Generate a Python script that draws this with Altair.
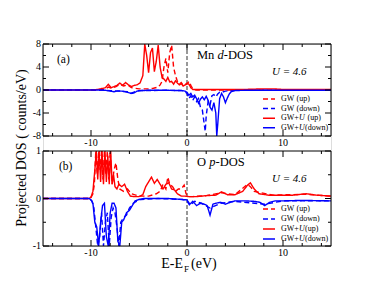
import altair as alt
import pandas as pd

# ---------------- data ----------------
series_names = ["GW (up)", "GW (down)", "GW+U (up)", "GW+U (down)"]

# Panel (a): Mn d-DOS
mn_gw_up_e = [-15, -9, -8.5, -8.2, -7.8, -7.4, -7.0, -6.6, -6.2, -5.8, -5.4, -5.0, -4.5, -4.0, -3.5, -3.0,
              -2.8, -2.6, -2.4, -2.2, -2.0, -1.8, -1.6, -1.4, -1.2, -1.0, -0.8, -0.6, -0.4, -0.2, 0.0, 0.2,
              0.4, 0.6, 0.8, 1.0, 15]
mn_gw_up_v = [0, 0, 0.2, 0.5, 0.3, 0.6, 1.0, 0.7, 0.9, 0.4, 0.3, 0.2, 0.2, 0.2, 0.3, 0.5,
              0.9, 1.5, 4.0, 5.5, 3.0, 6.5, 7.8, 4.0, 2.5, 1.5, 1.0, 1.3, 0.8, 0.9, 1.0, 1.5,
              0.8, 0.2, 0.05, 0.0, 0.0]

mn_gw_dn_e = [-15, -9, -8, -7, -6.2, -5.9, -5.6, -5, -2, -0.5, -0.2, 0, 0.2, 0.4, 0.6, 0.8, 1.0, 1.2,
              1.4, 1.6, 1.8, 1.9, 2.0, 2.2, 2.4, 2.6, 2.8, 3.0, 3.2, 3.4, 3.6, 3.8, 4.0, 4.5, 5, 15]
mn_gw_dn_v = [0, 0, -0.1, -0.2, -0.3, -0.6, -0.4, -0.1, -0.05, -0.1, -0.3, -0.6, -1.5, -1.0, -1.8, -1.2,
              -2.0, -1.5, -3.0, -3.5, -6.0, -7.2, -4.5, -2.0, -2.6, -1.0, -0.8, -1.2, -0.7, -0.4, -0.5,
              -0.3, -0.2, -0.1, -0.05, -0.05]

mn_gwu_up_e = [-15, -10, -9.5, -9, -8.5, -8.2, -7.9, -7.6, -7.3, -7.0, -6.7, -6.4, -6.1, -5.8, -5.5, -5.2,
               -4.9, -4.6, -4.4, -4.2, -4.0, -3.8, -3.6, -3.4, -3.2, -3.0, -2.8, -2.6, -2.4, -2.2, -2.0,
               -1.8, -1.6, -1.4, -1.2, -1.0, -0.8, -0.6, -0.4, -0.2, 0.0, 0.2, 0.4, 0.6, 1.0, 2, 4, 6,
               8, 9, 10, 12, 15]
mn_gwu_up_v = [0, 0, 0.05, 0.2, 0.4, 1.0, 0.4, 0.6, 0.8, 1.2, 0.8, 1.3, 0.9, 0.6, 0.8, 0.9,
               1.2, 2.5, 8.6, 6.0, 3.0, 6.5, 7.3, 3.2, 5.0, 7.8, 4.0, 2.2, 1.9, 1.5, 2.2,
               1.4, 1.5, 1.0, 1.6, 1.2, 0.9, 1.1, 0.7, 0.9, 1.2, 1.0, 0.4, 0.1, 0.1, 0.1, 0.1, 0.1,
               0.2, 0.2, 0.1, 0.1, 0.1]

mn_gwu_dn_e = [-15, -9, -8.5, -8.0, -7.6, -7.2, -6.8, -6.4, -6.0, -5.8, -5.5, -5.2, -4.8, -4.0, -2, -0.5,
               -0.2, 0.0, 0.2, 0.4, 0.6, 0.8, 1.0, 1.2, 1.4, 1.6, 1.8, 2.0, 2.2, 2.4, 2.6, 2.8, 3.0,
               3.1, 3.2, 3.4, 3.6, 3.8, 4.0, 4.2, 4.4, 4.6, 5.0, 6, 8, 10, 15]
mn_gwu_dn_v = [0, 0, -0.05, -0.2, -0.3, -0.15, -0.2, -0.3, -0.5, -0.6, -0.5, -0.2, -0.1, -0.05, -0.05, -0.1,
               -0.2, -0.4, -0.9, -0.6, -1.2, -0.9, -1.5, -2.3, -1.6, -1.2, -1.7, -1.1, -1.8, -3.0, -3.5,
               -2.2, -4.0, -8.6, -6.0, -1.5, -0.6, -1.2, -2.2, -1.4, -0.7, -0.3, -0.1, -0.05, -0.05,
               -0.05, -0.05]

# Panel (b): O p-DOS
o_gw_up_e = [-15, -10.2, -10.0, -9.8, -9.65, -9.5, -9.35, -9.2, -9.05, -8.9, -8.75, -8.6, -8.45, -8.3,
             -8.15, -8.0, -7.8, -7.6, -7.4, -7.2, -7.0, -6.6, -6.2, -5.8, -5.0, -4.0, -3.2, -2.8, -2.5,
             -2.2, -2.0, -1.8, -1.5, -1.2, -0.9, -0.6, -0.3, -0.1, 0.2, 0.6, 2, 3.6, 5, 6.3, 6.6, 7, 9,
             12.4, 15]
o_gw_up_v = [0, 0, 0.02, 0.1, 0.3, 2.0, 0.5, 2.0, 0.6, 2.0, 0.4, 2.0, 0.5, 2.0,
             0.4, 1.2, 0.3, 0.6, 0.75, 0.4, 0.2, 0.15, 0.2, 0.1, 0.05, 0.05, 0.1, 0.15, 0.3,
             0.2, 0.45, 0.3, 0.25, 0.15, 0.2, 0.2, 0.28, 0.1, 0.04, 0.04, 0.06, 0.12, 0.08, 0.3, 0.25,
             0.15, 0.07, 0.09, 0.05]

o_gw_dn_e = [-15, -10.2, -9.9, -9.7, -9.5, -9.3, -9.1, -8.9, -8.7, -8.5, -8.3, -8.1, -7.9, -7.7, -7.5,
             -7.3, -7.1, -6.9, -6.6, -6.3, -6.0, -5.6, -5.2, -4.8, -3, -0.5, 0, 0.3, 0.8, 1.5, 2.4, 3.5,
             5, 8.1, 10, 15]
o_gw_dn_v = [0, 0, -0.05, -0.2, -0.6, -1.5, -0.8, -0.3, -1.5, -0.5, -0.3, -1.2, -0.4, -0.2, -0.3,
             -0.6, -1.0, -0.5, -0.4, -0.35, -0.2, -0.1, -0.05, -0.02, 0, -0.02, -0.05, -0.15, -0.06,
             -0.1, -0.2, -0.1, -0.06, -0.12, -0.05, -0.05]

o_gwu_up_e = [-15, -10.2, -10.0, -9.8, -9.6, -9.45, -9.3, -9.15, -9.0, -8.85, -8.7, -8.55, -8.4, -8.25,
              -8.1, -7.95, -7.8, -7.65, -7.5, -7.3, -7.1, -6.8, -6.5, -6.2, -5.9, -5.5, -5.0, -4.6, -4.3,
              -4.0, -3.7, -3.4, -3.1, -2.8, -2.5, -2.2, -1.9, -1.6, -1.3, -1.0, -0.6, -0.2, 0.2, 1, 2,
              3, 3.6, 4.2, 5, 5.8, 6.3, 6.6, 7.0, 7.5, 8.5, 10, 11, 12.4, 13.5, 15]
o_gwu_up_v = [0, 0, 0.03, 0.15, 0.6, 2.0, 0.4, 2.0, 0.35, 2.0, 0.3, 2.0, 0.35, 0.9,
              0.3, 2.0, 0.3, 0.5, 0.25, 0.2, 0.3, 0.25, 0.3, 0.15, 0.05, 0.04, 0.04, 0.08, 0.25,
              0.35, 0.45, 0.32, 0.4, 0.3, 0.2, 0.3, 0.33, 0.2, 0.18, 0.1, 0.05, 0.05, 0.04, 0.04, 0.06,
              0.07, 0.14, 0.08, 0.08, 0.15, 0.28, 0.33, 0.2, 0.1, 0.07, 0.07, 0.07, 0.1, 0.07, 0.05]

o_gwu_dn_e = [-15, -10.2, -10.0, -9.8, -9.6, -9.4, -9.2, -9.0, -8.8, -8.6, -8.4, -8.2, -8.0, -7.8, -7.6,
              -7.4, -7.2, -7.0, -6.8, -6.6, -6.3, -6.0, -5.7, -5.4, -5.0, -4.5, -2, -0.5, 0, 0.3, 0.6,
              1.0, 1.4, 1.8, 2.1, 2.4, 2.7, 3.0, 3.5, 4.0, 4.5, 5, 6, 7, 7.6, 8.1, 8.6, 9.2, 10, 12, 15]
o_gwu_dn_v = [0, 0, -0.03, -0.1, -0.5, -0.6, -1.5, -0.5, -0.15, -0.1, -0.8, -1.5, -0.3, -0.1, -0.1,
              -0.2, -0.9, -1.5, -0.5, -0.45, -0.3, -0.25, -0.15, -0.05, -0.02, 0, 0, -0.02, -0.03, -0.12,
              -0.06, -0.15, -0.1, -0.12, -0.15, -0.35, -0.12, -0.1, -0.08, -0.12, -0.08, -0.05, -0.05,
              -0.06, -0.08, -0.15, -0.08, -0.05, -0.05, -0.04, -0.05]

# axis ticks
x_major = [-10, 0, 10]
x_minor = [-14, -12, -8, -6, -4, -2, 2, 4, 6, 8, 12, 14]
ya_major = [-8, -4, 0, 4, 8]
ya_minor = [-6, -2, 2, 6]
yb_major = [-1, 0, 1]
yb_minor = [-0.5, 0.5]

# ---------------- chart ----------------
FONT = "Liberation Serif"
W = 288
A_TOP, A_BOT = 0, 92      # panel (a) pixel rows
B_TOP, B_BOT = 107, 202   # panel (b) pixel rows
H = B_BOT
colors = ["#ff0000", "#0000ff", "#ff0000", "#0000ff"]
dashes = [[5, 3], [5, 3], [1, 0], [1, 0]]

xs = alt.Scale(domain=[-15, 15], nice=False, zero=False)


def yscale(dom, top, bot):
    return alt.Scale(domain=dom, range=[bot, top], nice=False, zero=False, clamp=True)


def make_df(parts):
    rows = []
    for name, es, vs in parts:
        assert len(es) == len(vs), name
        for e, v in zip(es, vs):
            rows.append({"E": e, "v": v, "series": name})
    return pd.DataFrame(rows)


def text_layer(txt, x, y, size, italic=False, align="left", angle=0):
    kw = dict(font=FONT, fontSize=size, align=align, baseline="middle", color="black")
    if italic:
        kw["fontStyle"] = "italic"
    if angle:
        kw["angle"] = angle
    return alt.Chart(pd.DataFrame({"t": [txt]})).mark_text(**kw).encode(
        text="t:N", x=alt.value(x), y=alt.value(y))


def hrule(x1, x2, y, color="black", width=1, dash=None):
    kw = dict(color=color, strokeWidth=width)
    if dash:
        kw["strokeDash"] = dash
    return alt.Chart(pd.DataFrame({"k": [0]})).mark_rule(**kw).encode(
        x=alt.value(x1), x2=alt.value(x2), y=alt.value(y))


def vrule(x, y1, y2):
    return alt.Chart(pd.DataFrame({"k": [0]})).mark_rule(color="black", strokeWidth=1).encode(
        x=alt.value(x), y=alt.value(y1), y2=alt.value(y2))


def panel_layers(df, ydom, ymaj, ymin, top, bot, label, elem, elem_off, legend_y, legend_gap,
                 gwu_gap):
    ys = yscale(ydom, top, bot)
    L = []
    # dashed Fermi level line
    L.append(alt.Chart(pd.DataFrame({"E": [0]})).mark_rule(
        color="#777777", strokeWidth=1.5, strokeDash=[4, 2]).encode(
        x=alt.X("E:Q", scale=xs, axis=None), y=alt.value(top), y2=alt.value(bot)))
    # DOS curves
    L.append(alt.Chart(df).mark_line(strokeWidth=1.4).encode(
        x=alt.X("E:Q", scale=xs, axis=None),
        y=alt.Y("v:Q", scale=ys, axis=None),
        color=alt.Color("series:N", scale=alt.Scale(domain=series_names, range=colors), legend=None),
        strokeDash=alt.StrokeDash("series:N", scale=alt.Scale(domain=series_names, range=dashes),
                                  legend=None),
    ))
    # frame
    L += [hrule(0, W, top), hrule(0, W, bot), vrule(0, top, bot), vrule(W, top, bot)]
    # inward ticks
    for vals, ln in ((x_major, 6), (x_minor, 3)):
        d = pd.DataFrame({"E": vals})
        L.append(alt.Chart(d).mark_rule(color="black", strokeWidth=1).encode(
            x=alt.X("E:Q", scale=xs, axis=None), y=alt.value(bot), y2=alt.value(bot - ln)))
        L.append(alt.Chart(d).mark_rule(color="black", strokeWidth=1).encode(
            x=alt.X("E:Q", scale=xs, axis=None), y=alt.value(top), y2=alt.value(top + ln)))
    for vals, ln in ((ymaj, 6), (ymin, 3)):
        d = pd.DataFrame({"v": vals})
        L.append(alt.Chart(d).mark_rule(color="black", strokeWidth=1).encode(
            y=alt.Y("v:Q", scale=ys, axis=None), x=alt.value(0), x2=alt.value(ln)))
        L.append(alt.Chart(d).mark_rule(color="black", strokeWidth=1).encode(
            y=alt.Y("v:Q", scale=ys, axis=None), x=alt.value(W), x2=alt.value(W - ln)))
    # tick labels
    dl = pd.DataFrame({"E": x_major, "lab": [str(v) for v in x_major]})
    L.append(alt.Chart(dl).mark_text(font=FONT, fontSize=10, baseline="middle", color="black").encode(
        x=alt.X("E:Q", scale=xs, axis=None), y=alt.value(bot + 7), text="lab:N"))
    dy = pd.DataFrame({"v": ymaj, "lab": [str(v) for v in ymaj]})
    L.append(alt.Chart(dy).mark_text(font=FONT, fontSize=10, baseline="middle", align="right",
                                     color="black").encode(
        y=alt.Y("v:Q", scale=ys, axis=None), x=alt.value(-2), text="lab:N"))
    # panel label and element title
    L.append(text_layer(label, 14 if label == "(a)" else 16, top + 16, 11.5))
    a, b, c = elem
    L.append(text_layer(a, 154, top + 11, 12.5))
    L.append(text_layer(b, 154 + elem_off[0], top + 11, 12.5, italic=True))
    L.append(text_layer(c, 154 + elem_off[1], top + 11, 12.5))
    L.append(text_layer("U = 4.6", 229, top + 28, 11, italic=True))
    # legend
    for i, name in enumerate(series_names):
        yy = top + legend_y + i * legend_gap
        L.append(hrule(220, 232, yy, color=colors[i], width=1.5, dash=dashes[i]))
        suffix = "(up)" if "up" in name else "(down)"
        if name.startswith("GW+U"):
            L.append(text_layer("GW+", 238, yy, 8))
            L.append(text_layer("U", 256, yy, 8, italic=True))
            L.append(text_layer(suffix, 262 + (gwu_gap if "up" in name else 0), yy, 8))
        else:
            L.append(text_layer("GW", 238, yy, 8))
            L.append(text_layer(suffix, 253.5, yy, 8))
    return L


df_a = make_df([
    ("GW (up)", mn_gw_up_e, mn_gw_up_v),
    ("GW (down)", mn_gw_dn_e, mn_gw_dn_v),
    ("GW+U (up)", mn_gwu_up_e, mn_gwu_up_v),
    ("GW+U (down)", mn_gwu_dn_e, mn_gwu_dn_v),
])
df_b = make_df([
    ("GW (up)", o_gw_up_e, o_gw_up_v),
    ("GW (down)", o_gw_dn_e, o_gw_dn_v),
    ("GW+U (up)", o_gwu_up_e, o_gwu_up_v),
    ("GW+U (down)", o_gwu_dn_e, o_gwu_dn_v),
])

layers = []
layers += panel_layers(df_a, [-8, 8], ya_major, ya_minor, A_TOP, A_BOT, "(a)", ("Mn", "d", "-DOS"),
                       (20.5, 26.8), 55, 9.6, 2.5)
layers += panel_layers(df_b, [-1, 1], yb_major, yb_minor, B_TOP, B_BOT, "(b)", ("O", "p", "-DOS"),
                       (12.2, 18.5), 58, 10, 0)
# axis titles
layers.append(text_layer("Projected  DOS ( counts/eV)", -21, 104, 14, angle=270, align="center"))
layers.append(text_layer("E-E", 140, 220, 14, align="right"))
layers.append(text_layer("F", 141, 225, 9, align="left"))
layers.append(text_layer("(eV)", 148, 220, 14, align="left"))

chart = alt.layer(*layers).resolve_scale(y="independent").properties(
    width=W, height=H,
    autosize=alt.AutoSizeParams(type="none"),
    padding={"left": 35, "top": 36, "right": 35, "bottom": 40},
).configure_view(stroke=None).configure(font=FONT)

chart.save("out.html", embed_options={"renderer": "svg", "actions": False})
